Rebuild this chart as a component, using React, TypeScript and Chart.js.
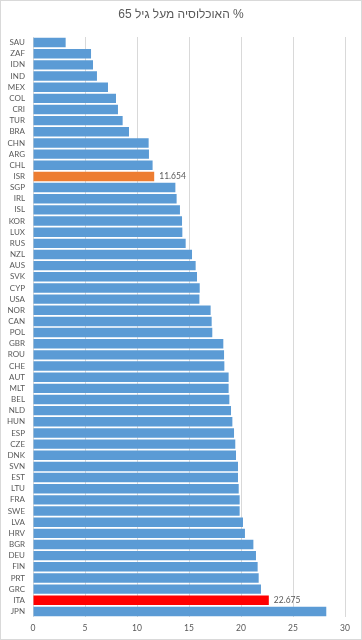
import React, { useEffect, useRef } from "react";
import { Chart, registerables } from "chart.js";

Chart.register(...registerables);

const TITLE = "% האוכלוסיה מעל גיל 65";

const countries = [
  "SAU", "ZAF", "IDN", "IND", "MEX", "COL", "CRI", "TUR", "BRA", "CHN", "ARG", "CHL", "ISR",
  "SGP", "IRL", "ISL", "KOR", "LUX", "RUS", "NZL", "AUS", "SVK", "CYP", "USA", "NOR", "CAN",
  "POL", "GBR", "ROU", "CHE", "AUT", "MLT", "BEL", "NLD", "HUN", "ESP", "CZE", "DNK", "SVN",
  "EST", "LTU", "FRA", "SWE", "LVA", "HRV", "BGR", "DEU", "FIN", "PRT", "GRC", "ITA", "JPN",
];

const values = [
  3.14, 5.58, 5.77, 6.15, 7.21, 7.98, 8.17, 8.62, 9.23, 11.12, 11.15, 11.5, 11.654,
  13.69, 13.81, 14.13, 14.33, 14.36, 14.68, 15.29, 15.64, 15.77, 16.03, 16.0, 17.08, 17.18,
  17.24, 18.3, 18.37, 18.4, 18.81, 18.81, 18.88, 19.04, 19.17, 19.33, 19.45, 19.52, 19.71,
  19.71, 19.78, 19.87, 19.87, 20.19, 20.38, 21.19, 21.44, 21.6, 21.7, 21.92, 22.675, 28.2,
];

const highlighted: Record<string, string> = { ISR: "#ED7D31", ITA: "#FF0000" };
const labelled = ["ISR", "ITA"];
const xTicks = [0, 5, 10, 15, 20, 25, 30];

const BLUE = "#5B9BD5";
const TEXT = "#595959";
const FONT = "Lato, 'Liberation Sans', sans-serif";

export default function App() {
  const ref = useRef<HTMLCanvasElement | null>(null);

  useEffect(() => {
    const canvas = ref.current;
    if (!canvas) return;

    const frame = {
      id: "frame",
      beforeDraw(chart: any) {
        const { ctx } = chart;
        ctx.save();
        ctx.fillStyle = "#ffffff";
        ctx.fillRect(0, 0, chart.width, chart.height);
        ctx.restore();
      },
      afterDraw(chart: any) {
        const { ctx } = chart;
        ctx.save();
        ctx.strokeStyle = "#d9d9d9";
        ctx.lineWidth = 1;
        ctx.strokeRect(0.5, 0.5, chart.width - 1, chart.height - 1);
        ctx.font = "12px 'Liberation Sans', 'DejaVu Sans', sans-serif";
        ctx.fillStyle = TEXT;
        (ctx as any).direction = "rtl";
        ctx.textAlign = "center";
        ctx.textBaseline = "middle";
        ctx.fillText(TITLE, chart.width / 2, 15);
        ctx.restore();
      },
    };

    const dataLabels = {
      id: "dataLabels",
      afterDatasetsDraw(chart: any) {
        const { ctx } = chart;
        const meta = chart.getDatasetMeta(0);
        ctx.save();
        ctx.font = "8.5px " + FONT;
        ctx.fillStyle = TEXT;
        ctx.textAlign = "left";
        ctx.textBaseline = "middle";
        labelled.forEach((c) => {
          const i = countries.indexOf(c);
          const el = meta.data[i];
          if (!el) return;
          ctx.fillText(String(values[i]), el.x + 5, el.y);
        });
        ctx.restore();
      },
    };

    const chart = new Chart(canvas, {
      type: "bar",
      data: {
        labels: countries,
        datasets: [
          {
            data: values,
            backgroundColor: countries.map((c) => highlighted[c] || BLUE),
            borderWidth: 0,
            categoryPercentage: 1,
            barPercentage: 0.845,
          },
        ],
      },
      options: {
        indexAxis: "y",
        animation: false,
        responsive: false,
        devicePixelRatio: 1,
        layout: { padding: { top: 37, right: 17, bottom: 0, left: 0 } },
        plugins: {
          legend: { display: false },
          title: { display: false },
          tooltip: { enabled: false },
        },
        scales: {
          x: {
            min: 0,
            max: 30,
            afterBuildTicks(scale: any) {
              scale.ticks = xTicks.map((v) => ({ value: v }));
            },
            grid: { color: "#d9d9d9", drawTicks: false, lineWidth: 1 },
            border: { display: false },
            ticks: { color: TEXT, font: { family: FONT, size: 8.5 }, padding: 6 },
            afterFit(scale: any) {
              scale.height = 23;
            },
          },
          y: {
            grid: { display: false, drawTicks: false },
            border: { display: false },
            ticks: {
              color: TEXT,
              font: { family: FONT, size: 8 },
              padding: 8,
              autoSkip: false,
            },
            afterFit(scale: any) {
              scale.width = 33;
            },
          },
        },
      },
      plugins: [frame, dataLabels],
    } as any);

    return () => chart.destroy();
  }, []);

  return (
    <div style={{ position: "fixed", left: 0, top: 0, width: 362, height: 640 }}>
      <canvas ref={ref} width={362} height={640} style={{ display: "block", width: 362, height: 640 }} />
    </div>
  );
}
